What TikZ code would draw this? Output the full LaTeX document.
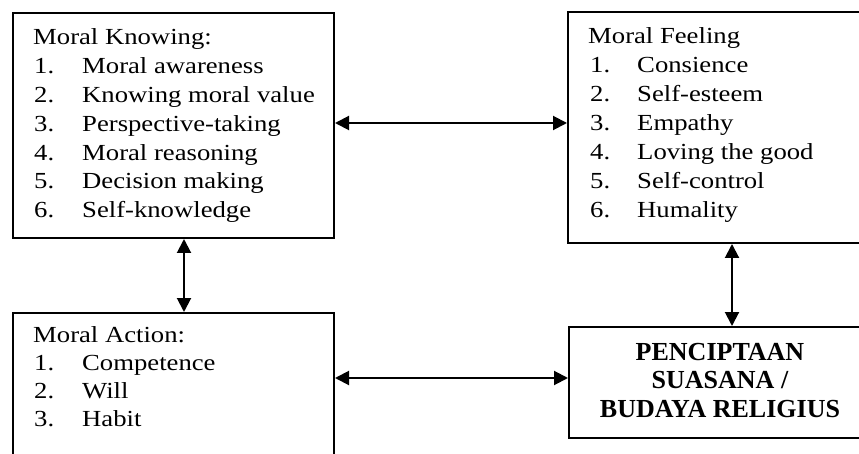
\documentclass[tikz,border=0pt]{standalone}
\usepackage{fontspec}
\setmainfont[FakeStretch=1.16]{Liberation Serif}
\newfontfamily\titlefont{Liberation Serif}
\usetikzlibrary{arrows.meta}
\begin{document}
\begin{tikzpicture}[x=1pt,y=-1pt,
  box/.style={draw,line width=2pt,inner sep=0pt,anchor=north west},
  txt/.style={anchor=base west,inner sep=0pt,font=\fontsize{23}{28}\selectfont},
  btxt/.style={anchor=base,inner sep=0pt,font=\titlefont\bfseries\fontsize{26}{30}\selectfont},
  dbl/.style={line width=2pt,{Triangle[length=14pt,width=14pt]}-{Triangle[length=14pt,width=14pt]}}]
\useasboundingbox (0,0) rectangle (859,454);
\clip (0,0) rectangle (859,454);
% boxes
\node[box,minimum width=321pt,minimum height=225pt] (know) at (12,12) {};
\node[box,minimum width=320pt,minimum height=231pt] (feel) at (567,11) {};
\node[box,minimum width=321pt,minimum height=170pt] (act) at (12,312) {};
\node[box,minimum width=304pt,minimum height=111pt] (cult) at (568,326) {};
% Moral Knowing
\node[txt] (kt) at (33,45) {Moral Knowing:};
\foreach \i/\t in {1/Moral awareness,2/Knowing moral value,3/Perspective-taking,4/Moral reasoning,5/Decision making,6/Self-knowledge}{
  \node[txt] (kn\i) at (34,45+28.8*\i) {\i.};
  \node[txt] (ki\i) at (82,45+28.8*\i) {\t};
}
% Moral Feeling
\node[txt] (ft) at (588,44) {Moral Feeling};
\foreach \i/\t in {1/Consience,2/Self-esteem,3/Empathy,4/Loving the good,5/Self-control,6/Humality}{
  \node[txt] (fn\i) at (590,44+29*\i) {\i.};
  \node[txt] (fi\i) at (637,44+29*\i) {\t};
}
% Moral Action
\node[txt] (at) at (33,342) {Moral Action:};
\foreach \i/\t in {1/Competence,2/Will,3/Habit}{
  \node[txt] (an\i) at (34,342+28*\i) {\i.};
  \node[txt] (ai\i) at (82,342+28*\i) {\t};
}
% Penciptaan
\node[btxt] (c1) at (720,360) {PENCIPTAAN};
\node[btxt] (c2) at (720,388) {SUASANA /};
\node[btxt] (c3) at (720,417) {BUDAYA RELIGIUS};
% arrows
\draw[dbl] (know.east |- 0,123) -- (feel.west |- 0,123);
\draw[dbl] (know.south -| 184,0) -- (act.north -| 184,0);
\draw[dbl] (feel.south -| 732,0) -- (cult.north -| 732,0);
\draw[dbl] (act.east |- 0,378) -- (cult.west |- 0,378);
\end{tikzpicture}
\end{document}
